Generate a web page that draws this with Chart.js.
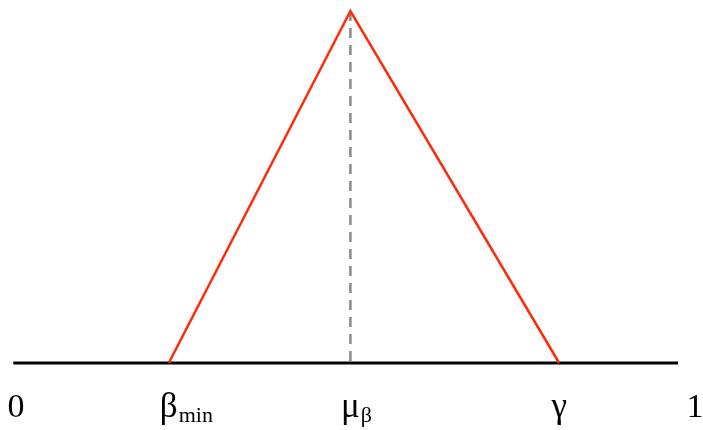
<!DOCTYPE html>
<html>
<head>
<meta charset="utf-8">
<style>
  html, body { margin: 0; padding: 0; background: #ffffff; }
  #wrap { width: 703px; height: 430px; position: relative; }
</style>
<script src="https://cdn.jsdelivr.net/npm/chart.js@4/dist/chart.umd.min.js"></script>
</head>
<body>
<div id="wrap"><canvas id="c" width="703" height="430"></canvas></div>
<script>
// Triangular density on [0, 1]: rises from beta_min, peaks at mu_beta, falls to gamma.
const triangleX = [0.225, 0.4925, 0.8];
const triangleY = [0, 1, 0];

// Mode marker (dashed vertical)
const modeX = [0.4925, 0.4925];
const modeY = [1, 0];

// Horizontal axis line
const axisX = [-0.004, 0.975];
const axisY = [0, 0];

// Axis labels: position, main symbol, subscript
const tickValues = [0, 0.225, 0.4925, 0.8, 1];
const tickMain = ['0', 'β', 'μ', 'γ', '1'];
const tickSub = ['', 'min', 'β', '', ''];

const toPoints = (xs, ys) => xs.map((x, i) => ({ x: x, y: ys[i] }));

const SERIF = '"Liberation Serif", "Times New Roman", serif';

// Draws the x labels (with subscripts) at positions given by the x scale
const labelPlugin = {
  id: 'subscriptLabels',
  afterDraw(chart) {
    const ctx = chart.ctx;
    const xs = chart.scales.x;
    const baseY = 417;
    ctx.save();
    ctx.fillStyle = '#000000';
    ctx.textBaseline = 'alphabetic';
    tickValues.forEach((v, i) => {
      const px = xs.getPixelForValue(v);
      const isDigit = /[0-9]/.test(tickMain[i]);
      ctx.font = (isDigit ? '34px ' : '35px ') + SERIF;
      const mainW = ctx.measureText(tickMain[i]).width;
      ctx.textAlign = 'left';
      ctx.fillText(tickMain[i], px - mainW / 2, baseY);
      if (tickSub[i]) {
        ctx.font = '22px ' + SERIF;
        ctx.fillText(tickSub[i], px + mainW / 2 + 1, baseY + 5);
      }
    });
    ctx.restore();
  }
};

new Chart(document.getElementById('c'), {
  type: 'scatter',
  data: {
    datasets: [
      {
        data: toPoints(axisX, axisY),
        showLine: true,
        borderColor: '#000000',
        borderWidth: 3,
        pointRadius: 0,
        borderCapStyle: 'butt',
        order: 3
      },
      {
        data: toPoints(modeX, modeY),
        showLine: true,
        borderColor: '#8a8a8a',
        borderWidth: 2.5,
        borderDash: [10, 7],
        pointRadius: 0,
        order: 2
      },
      {
        data: toPoints(triangleX, triangleY),
        showLine: true,
        borderColor: '#ff2a0a',
        borderWidth: 2.5,
        pointRadius: 0,
        tension: 0,
        borderJoinStyle: 'miter',
        order: 1
      }
    ]
  },
  options: {
    responsive: false,
    animation: false,
    clip: false,
    layout: { padding: { left: 16, right: 8, top: 11, bottom: 67 } },
    plugins: {
      legend: { display: false },
      tooltip: { enabled: false }
    },
    scales: {
      x: { type: 'linear', min: 0, max: 1, display: false },
      y: { type: 'linear', min: 0, max: 1, display: false }
    }
  },
  plugins: [labelPlugin]
});
</script>
</body>
</html>
